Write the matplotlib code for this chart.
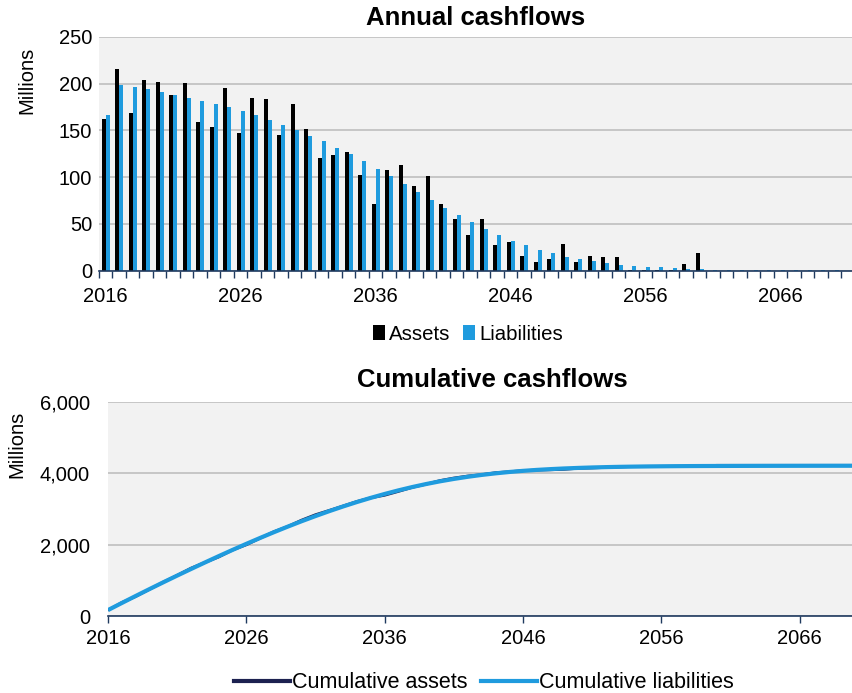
import numpy as np
import matplotlib
matplotlib.use("Agg")
import matplotlib.pyplot as plt
from matplotlib.ticker import FuncFormatter, MultipleLocator, FixedLocator
from matplotlib.patches import Patch
from matplotlib.lines import Line2D

plt.rcParams['font.family'] = ['Liberation Sans', 'DejaVu Sans']

years = list(range(2016, 2072))
assets = [161.8, 215.7, 169.0, 203.6, 202.0, 187.5, 201.0, 159.3, 154.0, 195.0,
          147.5, 185.0, 183.6, 145.0, 178.2, 151.8, 120.7, 123.6, 126.8, 102.5,
          71.4, 107.9, 112.5, 90.4, 100.7, 71.4, 55.7, 37.9, 55.4, 27.5,
          30.7, 15.7, 8.9, 12.9, 28.6, 8.9, 15.4, 14.6, 14.3, 0.7,
          0.7, 0.5, 0.7, 7.5, 19.3, 0.0, 0.0, 0.0, 0.0, 0.0,
          0.0, 0.0, 0.0, 0.0, 0.0, 0.0]
liabilities = [166.0, 198.6, 196.4, 193.6, 190.4, 187.5, 184.6, 181.8, 178.6, 174.6,
               170.7, 166.0, 161.4, 156.0, 150.7, 144.3, 138.6, 131.4, 124.3, 116.8,
               108.9, 101.4, 92.9, 84.3, 75.7, 67.1, 59.6, 52.1, 44.6, 38.2,
               32.1, 27.1, 22.1, 18.6, 15.0, 12.5, 10.0, 7.9, 6.0, 5.0,
               3.9, 3.5, 2.5, 1.8, 1.4, 1.1, 1.0, 0.8, 0.7, 0.6,
               0.5, 0.4, 0.4, 0.3, 0.3, 0.2]
cum_assets = np.cumsum(assets)
cum_liabilities = np.cumsum(liabilities)

BLACK = "#000000"
BLUE = "#1F9BDE"
NAVY = "#1C2150"
BG = "#F2F2F2"
GRID = "#BFBFBF"
AXC = "#1F3A5F"
TICK_FS = 14.5

W, H = 853, 693
fig = plt.figure(figsize=(W / 100, H / 100), dpi=100)

# ---------- Top chart ----------
ax1 = fig.add_axes([99 / W, 1 - 270.7 / H, 756 / W, 234 / H])
ax1.set_facecolor(BG)
x = np.arange(len(years))
ax1.bar(x - 0.155, assets, width=0.29, color=BLACK, zorder=3)
ax1.bar(x + 0.14, liabilities, width=0.29, color=BLUE, zorder=3)
ax1.set_xlim(-0.5, len(years) - 0.5)
ax1.set_ylim(0, 250)
ax1.yaxis.set_major_locator(MultipleLocator(50))
ax1.grid(axis='y', color=GRID, linewidth=1.2, zorder=0)
for s in ['top', 'right', 'left']:
    ax1.spines[s].set_visible(False)
ax1.spines['bottom'].set_color(AXC)
ax1.spines['bottom'].set_linewidth(1.2)
ax1.spines['bottom'].set_zorder(4)
ax1.xaxis.set_major_locator(FixedLocator(x[::10]))
ax1.set_xticklabels([str(y) for y in years[::10]])
ax1.xaxis.set_minor_locator(FixedLocator(np.arange(-0.5, len(years), 1.0)))
ax1.tick_params(axis='x', which='major', length=0, labelsize=TICK_FS, pad=12)
ax1.tick_params(axis='x', which='minor', length=5, width=1, color=AXC)
ax1.tick_params(axis='y', length=0, labelsize=TICK_FS, pad=5)
fig.text(27 / W, 1 - 80 / H, "Millions", rotation=90, fontsize=14.5, ha='center', va='center')
fig.text(476 / W, 1 - 18 / H, "Annual cashflows", fontsize=18.5, fontweight='bold',
         ha='center', va='center')
h1 = [Patch(facecolor=BLACK), Patch(facecolor=BLUE)]
fig.legend(h1, ["Assets", "Liabilities"], loc='center', bbox_to_anchor=(468 / W, 1 - 334 / H),
           ncol=2, frameon=False, fontsize=14.7, handlelength=0.6, handleheight=0.8,
           handletextpad=0.2, columnspacing=0.6)

# ---------- Bottom chart ----------
ax2 = fig.add_axes([108 / W, 1 - 616 / H, 747 / W, 214 / H])
ax2.set_facecolor(BG)
ax2.plot(years, cum_assets, color=NAVY, linewidth=2.0, zorder=3, solid_capstyle='butt')
ax2.plot(years, cum_liabilities, color=BLUE, linewidth=3.0, zorder=4, solid_capstyle='butt')
ax2.set_xlim(2016, 2016 + 747 / 13.83)
ax2.set_ylim(0, 6000)
ax2.yaxis.set_major_locator(MultipleLocator(2000))
ax2.yaxis.set_major_formatter(FuncFormatter(lambda v, p: f"{int(v):,}"))
ax2.grid(axis='y', color=GRID, linewidth=1.2, zorder=0)
for s in ['top', 'right', 'left']:
    ax2.spines[s].set_visible(False)
ax2.spines['bottom'].set_color(AXC)
ax2.spines['bottom'].set_linewidth(1.2)
ax2.xaxis.set_major_locator(FixedLocator(years[::10]))
ax2.xaxis.set_major_formatter(FuncFormatter(lambda v, p: f"{int(v)}"))
ax2.tick_params(axis='x', length=5, width=1, color=AXC, labelsize=TICK_FS, pad=4)
ax2.tick_params(axis='y', length=0, labelsize=TICK_FS, pad=13)
fig.text(16.5 / W, 1 - 444 / H, "Millions", rotation=90, fontsize=14.5, ha='center', va='center')
fig.text(492 / W, 1 - 380 / H, "Cumulative cashflows", fontsize=18.5, fontweight='bold',
         ha='center', va='center')
h2 = [Line2D([], [], color=NAVY, linewidth=3), Line2D([], [], color=BLUE, linewidth=3)]
fig.legend(h2, ["Cumulative assets", "Cumulative liabilities"], loc='center',
           bbox_to_anchor=(484 / W, 1 - 683 / H), ncol=2, frameon=False, fontsize=15.5,
           handlelength=2.6, handletextpad=0.1, columnspacing=0.6)

fig.savefig("out.png", dpi=100)
